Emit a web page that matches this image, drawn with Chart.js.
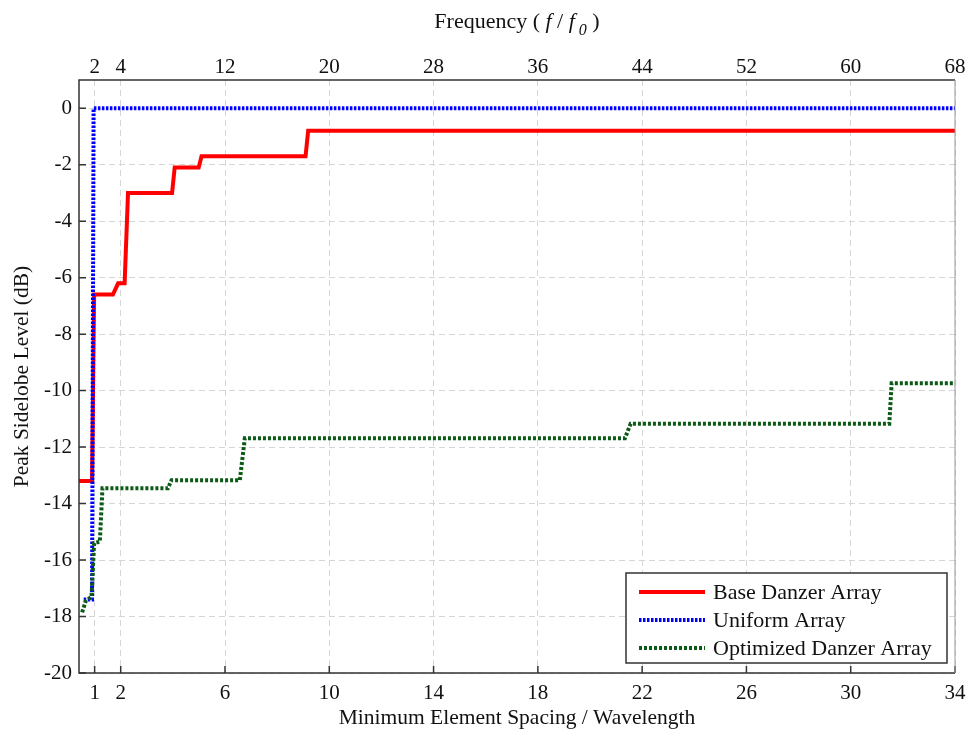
<!DOCTYPE html>
<html>
<head>
<meta charset="utf-8">
<script src="https://cdn.jsdelivr.net/npm/chart.js@4.4.1/dist/chart.umd.min.js"></script>
<style>
  html, body { margin: 0; padding: 0; background: #fff; }
  #chart { display: block; }
</style>
</head>
<body>
<canvas id="chart" width="970" height="736"></canvas>
<script>
// axis ticks
var spacingTicks = [1, 2, 6, 10, 14, 18, 22, 26, 30, 34];
var freqTicks = [2, 4, 12, 20, 28, 36, 44, 52, 60, 68];
var levelTicks = [-20, -18, -16, -14, -12, -10, -8, -6, -4, -2, 0];

var seriesNames = ["Base Danzer Array", "Uniform Array", "Optimized Danzer Array"];

// Base Danzer Array
var baseX = [0.4, 0.9, 0.98, 1.7, 1.9, 2.15, 2.28, 3.97, 4.07, 4.99, 5.1, 9.09, 9.19, 34];
var baseY = [-13.2, -13.2, -6.6, -6.6, -6.2, -6.2, -3.0, -3.0, -2.1, -2.1, -1.7, -1.7, -0.8, -0.8];

// Uniform Array
var uniformX = [0.58, 0.9, 0.96, 34];
var uniformY = [-17.4, -17.4, 0, 0];

// Optimized Danzer Array
var optX = [0.52, 0.66, 0.88, 0.98, 1.2, 1.3, 3.81, 3.95, 6.57, 6.76, 21.34, 21.56, 31.48, 31.57, 34];
var optY = [-17.85, -17.45, -17.3, -15.4, -15.35, -13.46, -13.46, -13.17, -13.17, -11.69, -11.69, -11.17, -11.17, -9.74, -9.74];

var serif = "'Liberation Serif', 'DejaVu Serif', serif";

function toPoints(xs, ys) {
    return xs.map(function (x, i) {
        return { x: x, y: ys[i] };
    });
}

// box, inward ticks, top title and legend
var framePlugin = {
    id: "frame",
    afterDraw: function (chart) {
        var ctx = chart.ctx;
        var a = chart.chartArea;
        var sx = chart.scales.x;
        var sy = chart.scales.y;
        ctx.save();

        ctx.strokeStyle = "#333";
        ctx.lineWidth = 1.5;
        ctx.beginPath();
        spacingTicks.forEach(function (v) {
            var px = sx.getPixelForValue(v);
            ctx.moveTo(px, a.bottom);
            ctx.lineTo(px, a.bottom - 7);
        });
        levelTicks.forEach(function (v) {
            var py = sy.getPixelForValue(v);
            ctx.moveTo(a.left, py);
            ctx.lineTo(a.left + 7, py);
        });
        ctx.stroke();

        ctx.beginPath();
        ctx.moveTo(a.right, a.top);
        ctx.lineTo(a.left, a.top);
        ctx.lineTo(a.left, a.bottom);
        ctx.lineTo(a.right, a.bottom);
        ctx.stroke();
        ctx.strokeStyle = "#999";
        ctx.lineWidth = 1;
        ctx.beginPath();
        ctx.moveTo(a.right, a.top);
        ctx.lineTo(a.right, a.bottom);
        ctx.stroke();

        // top title: Frequency (f/f0)
        var parts = [
            { t: "Frequency (", f: "22px " + serif, dy: 0 },
            { t: " f", f: "italic 22px " + serif, dy: 0 },
            { t: " / ", f: "22px " + serif, dy: 0 },
            { t: "f", f: "italic 22px " + serif, dy: 0 },
            { t: " 0", f: "italic 16px " + serif, dy: 7 },
            { t: " )", f: "22px " + serif, dy: 0 }
        ];
        var total = 0;
        parts.forEach(function (p) {
            ctx.font = p.f;
            p.w = ctx.measureText(p.t).width;
            total += p.w;
        });
        var tx = (a.left + a.right) / 2 - total / 2;
        ctx.fillStyle = "#111";
        ctx.textBaseline = "alphabetic";
        ctx.textAlign = "left";
        parts.forEach(function (p) {
            ctx.font = p.f;
            ctx.fillText(p.t, tx, 28 + p.dy);
            tx += p.w;
        });

        // legend
        var lx = 626, ly = 573, lw = 321, lh = 90;
        ctx.fillStyle = "#fff";
        ctx.fillRect(lx, ly, lw, lh);
        ctx.strokeStyle = "#333";
        ctx.lineWidth = 1.5;
        ctx.strokeRect(lx, ly, lw, lh);
        ctx.font = "22px " + serif;
        ctx.textBaseline = "middle";
        chart.data.datasets.forEach(function (ds, i) {
            var yy = ly + 19 + i * 28;
            ctx.strokeStyle = ds.borderColor;
            ctx.lineWidth = ds.borderWidth;
            ctx.setLineDash(ds.borderDash || []);
            ctx.beginPath();
            ctx.moveTo(lx + 13, yy);
            ctx.lineTo(lx + 79, yy);
            ctx.stroke();
            ctx.setLineDash([]);
            ctx.fillStyle = "#111";
            ctx.fillText(ds.label, lx + 87, yy + 1);
        });
        ctx.restore();
    }
};

// keep the plot box wide; labels may hang over the right margin
function fitX(h) {
    return function (scale) {
        scale.height = h;
        scale.paddingRight = 0;
    };
}

var ctx = document.getElementById("chart").getContext("2d");
new Chart(ctx, {
    type: "line",
    data: {
        datasets: [
            {
                label: seriesNames[0],
                data: toPoints(baseX, baseY),
                borderColor: "#ff0000",
                borderWidth: 4,
                order: 3
            },
            {
                label: seriesNames[1],
                data: toPoints(uniformX, uniformY),
                borderColor: "#0000ff",
                borderWidth: 4,
                borderDash: [2.5, 1.5],
                order: 2
            },
            {
                label: seriesNames[2],
                data: toPoints(optX, optY),
                borderColor: "#0b5a16",
                borderWidth: 4,
                borderDash: [3, 2],
                order: 1
            }
        ]
    },
    options: {
        responsive: false,
        animation: false,
        devicePixelRatio: 1,
        layout: { padding: { left: 0, right: 15, top: 0, bottom: 0 } },
        elements: {
            point: { radius: 0 },
            line: { tension: 0, fill: false, borderCapStyle: "butt", borderJoinStyle: "miter" }
        },
        plugins: {
            legend: { display: false },
            tooltip: { enabled: false }
        },
        scales: {
            x: {
                type: "linear",
                position: "bottom",
                min: 0.4,
                max: 34,
                afterBuildTicks: function (scale) {
                    scale.ticks = spacingTicks.map(function (v) { return { value: v }; });
                },
                afterFit: fitX(63),
                ticks: {
                    padding: 8,
                    maxRotation: 0,
                    autoSkip: false,
                    color: "#111",
                    font: { family: serif, size: 21 }
                },
                grid: { color: "#d6d6d6", lineWidth: 1, drawTicks: false },
                border: { display: false, dash: [6, 4] },
                title: {
                    display: true,
                    text: "Minimum Element Spacing / Wavelength",
                    color: "#111",
                    font: { family: serif, size: 21.5 },
                    padding: { top: 0, bottom: 5 }
                }
            },
            x2: {
                type: "linear",
                position: "top",
                min: 0.4,
                max: 34,
                afterBuildTicks: function (scale) {
                    scale.ticks = spacingTicks.map(function (v) { return { value: v }; });
                },
                afterFit: fitX(80),
                ticks: {
                    padding: 0,
                    maxRotation: 0,
                    autoSkip: false,
                    color: "#111",
                    font: { family: serif, size: 21 },
                    callback: function (value, index) { return String(freqTicks[index]); }
                },
                grid: { display: false, drawTicks: false },
                border: { display: false }
            },
            y: {
                type: "linear",
                position: "left",
                min: -20,
                max: 1,
                afterBuildTicks: function (scale) {
                    scale.ticks = levelTicks.map(function (v) { return { value: v }; });
                },
                afterFit: function (scale) { scale.width = 79; },
                ticks: {
                    padding: 7,
                    color: "#111",
                    font: { family: serif, size: 21 }
                },
                grid: { color: "#d6d6d6", lineWidth: 1, drawTicks: false },
                border: { display: false, dash: [6, 4] },
                title: {
                    display: true,
                    text: "Peak Sidelobe Level (dB)",
                    color: "#111",
                    font: { family: serif, size: 21.5 },
                    padding: { top: 9, bottom: 0 }
                }
            }
        }
    },
    plugins: [framePlugin]
});
</script>
</body>
</html>
